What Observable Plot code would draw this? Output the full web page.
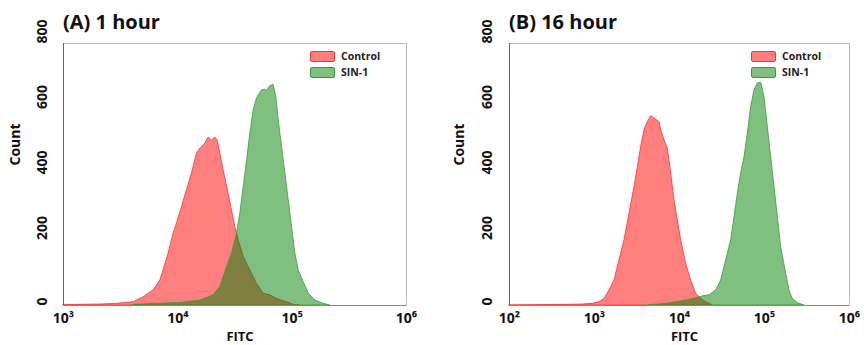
<!DOCTYPE html>
<html>
<head>
<meta charset="utf-8">
<script src="https://cdn.jsdelivr.net/npm/d3@7"></script>
<script src="https://cdn.jsdelivr.net/npm/@observablehq/plot@0.6"></script>
<style>
  body { margin: 0; background: #fff; font-family: "Open Sans", sans-serif; }
  #wrap { position: relative; width: 864px; height: 345px; overflow: hidden; }
  .panel { position: absolute; top: 0; }
  .title { position: absolute; top: 8px; font-size: 20px; font-weight: bold; color: #111; white-space: nowrap; }
  .leg { position: absolute; font-size: 10.5px; font-weight: bold; color: #222; display: flex; align-items: center; white-space: nowrap; }
  .sw { width: 23px; height: 9px; margin-right: 6px; border-radius: 2px; }
</style>
</head>
<body>
<div id="wrap"></div>
<script>
// ---- Data ----
const seriesNames = ["Control", "SIN-1"];
const seriesFill = ["rgb(255,0,0)", "rgb(0,128,0)"];
const seriesStroke = ["#ff3030", "#3a9a3a"];

// Panel A: 1 hour
const titleA = "(A) 1 hour";
const aControlX = [1000, 2094, 2930, 4100, 5010, 6140, 7020, 7500, 8300, 9180, 9820, 10860, 12020, 13290, 14690, 15710, 17380, 18580, 19890, 21280, 22300, 23510, 25480, 27800, 29760, 31830, 34040, 37660, 43070, 49230, 56330, 64430, 73690, 90130, 103000, 118000];
const aControlY = [1, 3, 5, 10, 25, 46, 76, 107, 158, 219, 250, 300, 352, 403, 464, 479, 494, 513, 504, 513, 504, 464, 403, 341, 290, 240, 199, 148, 107, 66, 36, 31, 20, 10, 2, 0];
const aSinX = [4100, 10500, 15710, 20560, 23510, 26890, 29760, 32890, 35200, 37660, 40300, 43070, 46050, 49230, 54450, 58230, 60230, 64430, 68900, 72710, 76300, 81570, 87200, 93290, 99700, 106700, 114100, 126200, 139600, 159700, 188800, 215900];
const aSinY = [2, 8, 15, 31, 56, 117, 158, 219, 280, 362, 443, 525, 596, 632, 657, 659, 655, 670, 673, 637, 565, 484, 403, 321, 240, 158, 107, 71, 36, 15, 5, 0];
const aTicksX = [1e3, 1e4, 1e5, 1e6];
const aTickLabels = ["10³", "10⁴", "10⁵", "10⁶"];

// Panel B: 16 hour
const titleB = "(B) 16 hour";
const bControlX = [100, 188, 464, 729, 955, 1145, 1312, 1501, 1718, 1967, 2252, 2581, 2956, 3236, 3540, 3874, 4238, 4645, 5082, 5821, 6085, 6668, 7295, 7980, 8730, 9550, 10470, 11980, 13710, 15700, 17990, 20600, 24670];
const bControlY = [0, 1, 2, 3, 5, 10, 20, 46, 76, 138, 199, 280, 362, 423, 484, 535, 560, 578, 571, 560, 535, 504, 479, 403, 321, 260, 199, 127, 76, 36, 20, 10, 0];
const bSinX = [4436, 6970, 9140, 11980, 15700, 18830, 22560, 27000, 30900, 35400, 40550, 44380, 48560, 53110, 58210, 63680, 69660, 76210, 83560, 91410, 100000, 109400, 119700, 131200, 143500, 157000, 179900, 196800, 215300, 246600, 295800];
const bSinY = [1, 5, 10, 15, 22, 28, 31, 46, 76, 138, 199, 270, 341, 403, 453, 525, 606, 657, 678, 680, 637, 545, 453, 362, 270, 178, 97, 46, 20, 7, 0];
const bTicksX = [1e2, 1e3, 1e4, 1e5, 1e6];
const bTickLabels = ["10²", "10³", "10⁴", "10⁵", "10⁶"];

const yTicks = [0, 200, 400, 600, 800];
const xLabel = "FITC";
const yLabel = "Count";

// ---- Drawing ----
const wrap = document.getElementById("wrap");
const FONT = "Open Sans, sans-serif";

function toRows(xs, ys, name) { return xs.map((x, i) => ({x, y: ys[i], s: name})); }

function panel(cfg) {
  const rows = [
    ...toRows(cfg.cx, cfg.cy, seriesNames[0]),
    ...toRows(cfg.sx, cfg.sy, seriesNames[1])
  ];
  const tickRows = cfg.ticks.map((t, i) => ({t, label: cfg.labels[i]}));
  const p = Plot.plot({
    width: 432, height: 345,
    marginLeft: cfg.ml, marginRight: cfg.mr, marginTop: 43, marginBottom: 40,
    style: {fontFamily: FONT, background: "transparent"},
    x: {type: "log", domain: cfg.domain, axis: null},
    y: {domain: [0, 800], axis: null},
    marks: [
      Plot.frame({stroke: "#b8b8b8"}),
      Plot.areaY(rows.filter(d => d.s === seriesNames[0]), {x: "x", y: "y", fill: seriesFill[0], fillOpacity: 0.5, stroke: seriesStroke[0], strokeWidth: 0.8}),
      Plot.areaY(rows.filter(d => d.s === seriesNames[1]), {x: "x", y: "y", fill: seriesFill[1], fillOpacity: 0.5, stroke: seriesStroke[1], strokeWidth: 0.8}),
      Plot.ruleX([cfg.domain[0]], {stroke: "#666", strokeWidth: 1}),
      Plot.ruleY([0], {stroke: "#888", strokeWidth: 1}),
      Plot.text(yTicks, {y: d => d, text: d => String(d), frameAnchor: "left", dx: cfg.ydx, rotate: -90, fontSize: 14, fontWeight: "bold", fill: "#111"}),
      Plot.text(tickRows, {x: "t", text: "label", frameAnchor: "bottom", dy: 17, fontSize: 14, fontWeight: "bold", fill: "#111"}),
      Plot.text([xLabel], {frameAnchor: "bottom", dy: 35, dx: 5, fontSize: 13, fontWeight: "bold", fill: "#111"}),
      Plot.text([yLabel], {frameAnchor: "left", dx: cfg.labdx, dy: -9, rotate: -90, fontSize: 14, fontWeight: "bold", fill: "#111"})
    ]
  });
  p.classList.add("panel");
  p.style.left = cfg.left + "px";
  wrap.appendChild(p);

  const t = document.createElement("div");
  t.className = "title";
  t.textContent = cfg.title;
  t.style.left = (cfg.left + cfg.ml) + "px";
  wrap.appendChild(t);

  seriesNames.forEach((n, i) => {
    const l = document.createElement("div");
    l.className = "leg";
    l.style.left = cfg.legX + "px";
    l.style.top = (49 + i * 16) + "px";
    const sw = document.createElement("div");
    sw.className = "sw";
    sw.style.background = i === 0 ? "rgba(255,0,0,0.5)" : "rgba(0,128,0,0.5)";
    sw.style.border = "1px solid " + seriesStroke[i];
    l.appendChild(sw);
    const tx = document.createElement("span");
    tx.textContent = n;
    l.appendChild(tx);
    wrap.appendChild(l);
  });
}

panel({left: 0, ml: 63, mr: 26, domain: [1e3, 1e6], ticks: aTicksX, labels: aTickLabels,
  cx: aControlX, cy: aControlY, sx: aSinX, sy: aSinY, title: titleA, ydx: -21, labdx: -48, legX: 310});
panel({left: 432, ml: 77, mr: 15, domain: [1e2, 1e6], ticks: bTicksX, labels: bTickLabels,
  cx: bControlX, cy: bControlY, sx: bSinX, sy: bSinY, title: titleB, ydx: -22, labdx: -50, legX: 751});
</script>
</body>
</html>
